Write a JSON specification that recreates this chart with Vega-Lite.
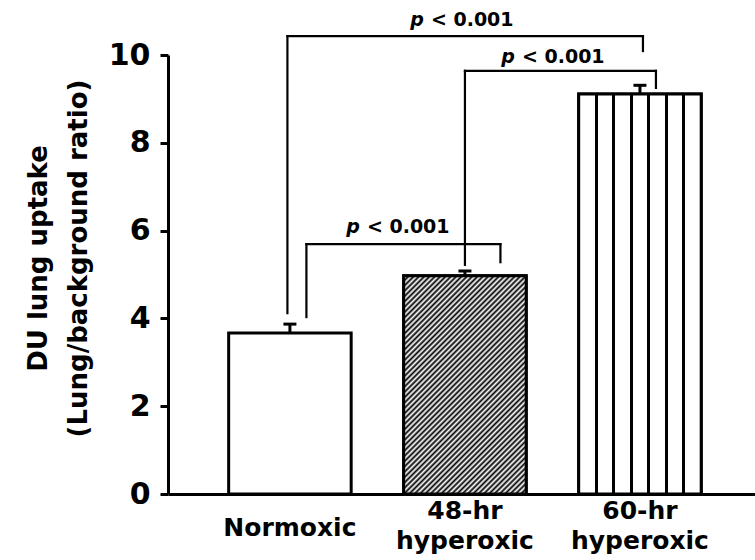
{
  "$schema": "https://vega.github.io/schema/vega-lite/v6.json",
  "autosize": {"type": "none"},
  "padding": {"left": 168, "top": 55, "right": 0, "bottom": 66},
  "width": 587,
  "height": 439,
  "background": "white",
  "config": {"view": {"stroke": null}, "font": "DejaVu Sans"},
  "resolve": {"axis": {"x": "independent", "y": "independent"}},
  "datasets": {
    "bars": [
      {"group": "Normoxic", "mean": 3.67, "upper": 3.87},
      {"group": "48-hr hyperoxic", "mean": 4.97, "upper": 5.08},
      {"group": "60-hr hyperoxic", "mean": 9.11, "upper": 9.31}
    ],
    "brackets": [
      {"id": "A", "from": "Normoxic", "to": "60-hr hyperoxic", "top": 10.43, "fromEnd": 4.12, "toEnd": 10.09, "labelY": 10.8, "p": "p", "sig": "< 0.001"},
      {"id": "B", "from": "48-hr hyperoxic", "to": "60-hr hyperoxic", "top": 9.64, "fromEnd": 5.22, "toEnd": 9.25, "labelY": 9.95, "p": "p", "sig": "< 0.001"},
      {"id": "C", "from": "Normoxic", "to": "48-hr hyperoxic", "top": 5.69, "fromEnd": 4.03, "toEnd": 5.28, "labelY": 6.08, "p": "p", "sig": "< 0.001"}
    ]
  },
  "layer": [
    {
      "data": {"name": "bars"},
      "mark": {"type": "bar", "fill": "white", "stroke": "black", "strokeWidth": 3},
      "encoding": {
        "x": {"field": "group", "type": "nominal",
          "scale": {"domain": ["Normoxic", "48-hr hyperoxic", "60-hr hyperoxic"], "paddingInner": 0.3, "paddingOuter": 0.327, "align": 0.53},
          "axis": {"title": null, "ticks": false, "tickSize": 0, "domainWidth": 3, "domainColor": "black", "labelColor": "black", "labelFont": "DejaVu Sans", "labelFontSize": 25, "labelFontWeight": "bold", "labelLineHeight": 30, "labelBaseline": "top",
            "labelPadding": {"condition": {"test": "datum.value == 'Normoxic'", "value": 21}, "value": 4},
            "labelAngle": 0, "labelLimit": 0, "labelExpr": "split(datum.label, ' ')"}},
        "y": {"field": "mean", "type": "quantitative",
          "scale": {"domain": [0, 10], "nice": false},
          "axis": {"title": ["DU lung uptake", "(Lung/background ratio)"], "values": [0, 2, 4, 6, 8, 10], "grid": false, "tickSize": 8, "tickWidth": 3, "tickColor": "black", "domainWidth": 3, "domainColor": "black", "labelColor": "black", "labelFont": "DejaVu Sans", "labelFontSize": 30, "labelFontWeight": "bold", "labelPadding": 10, "titleFont": "DejaVu Sans", "titleFontSize": 26, "titleFontWeight": "bold", "titleColor": "black", "titleAngle": 270, "titleBaseline": "middle", "titleAlign": "center", "titleLineHeight": 40, "titleX": -130, "titleY": 203}}
      }
    },
    {
      "data": {"name": "bars"},
      "transform": [{"filter": "datum.group == '48-hr hyperoxic'"}],
      "mark": {"type": "bar", "stroke": "black", "strokeWidth": 3,
        "fill": {"gradient": "linear", "x1": 0, "y1": 0, "x2": 0.667, "y2": 1.187, "stops": [
          {"offset": 0, "color": "black"}, {"offset": 0.00781, "color": "white"}, {"offset": 0.01563, "color": "black"}, {"offset": 0.02344, "color": "white"},
          {"offset": 0.03125, "color": "black"}, {"offset": 0.03906, "color": "white"}, {"offset": 0.04688, "color": "black"}, {"offset": 0.05469, "color": "white"},
          {"offset": 0.0625, "color": "black"}, {"offset": 0.07031, "color": "white"}, {"offset": 0.07813, "color": "black"}, {"offset": 0.08594, "color": "white"},
          {"offset": 0.09375, "color": "black"}, {"offset": 0.10156, "color": "white"}, {"offset": 0.10938, "color": "black"}, {"offset": 0.11719, "color": "white"},
          {"offset": 0.125, "color": "black"}, {"offset": 0.13281, "color": "white"}, {"offset": 0.14063, "color": "black"}, {"offset": 0.14844, "color": "white"},
          {"offset": 0.15625, "color": "black"}, {"offset": 0.16406, "color": "white"}, {"offset": 0.17188, "color": "black"}, {"offset": 0.17969, "color": "white"},
          {"offset": 0.1875, "color": "black"}, {"offset": 0.19531, "color": "white"}, {"offset": 0.20313, "color": "black"}, {"offset": 0.21094, "color": "white"},
          {"offset": 0.21875, "color": "black"}, {"offset": 0.22656, "color": "white"}, {"offset": 0.23438, "color": "black"}, {"offset": 0.24219, "color": "white"},
          {"offset": 0.25, "color": "black"}, {"offset": 0.25781, "color": "white"}, {"offset": 0.26563, "color": "black"}, {"offset": 0.27344, "color": "white"},
          {"offset": 0.28125, "color": "black"}, {"offset": 0.28906, "color": "white"}, {"offset": 0.29688, "color": "black"}, {"offset": 0.30469, "color": "white"},
          {"offset": 0.3125, "color": "black"}, {"offset": 0.32031, "color": "white"}, {"offset": 0.32813, "color": "black"}, {"offset": 0.33594, "color": "white"},
          {"offset": 0.34375, "color": "black"}, {"offset": 0.35156, "color": "white"}, {"offset": 0.35938, "color": "black"}, {"offset": 0.36719, "color": "white"},
          {"offset": 0.375, "color": "black"}, {"offset": 0.38281, "color": "white"}, {"offset": 0.39063, "color": "black"}, {"offset": 0.39844, "color": "white"},
          {"offset": 0.40625, "color": "black"}, {"offset": 0.41406, "color": "white"}, {"offset": 0.42188, "color": "black"}, {"offset": 0.42969, "color": "white"},
          {"offset": 0.4375, "color": "black"}, {"offset": 0.44531, "color": "white"}, {"offset": 0.45313, "color": "black"}, {"offset": 0.46094, "color": "white"},
          {"offset": 0.46875, "color": "black"}, {"offset": 0.47656, "color": "white"}, {"offset": 0.48438, "color": "black"}, {"offset": 0.49219, "color": "white"},
          {"offset": 0.5, "color": "black"}, {"offset": 0.50781, "color": "white"}, {"offset": 0.51563, "color": "black"}, {"offset": 0.52344, "color": "white"},
          {"offset": 0.53125, "color": "black"}, {"offset": 0.53906, "color": "white"}, {"offset": 0.54688, "color": "black"}, {"offset": 0.55469, "color": "white"},
          {"offset": 0.5625, "color": "black"}, {"offset": 0.57031, "color": "white"}, {"offset": 0.57813, "color": "black"}, {"offset": 0.58594, "color": "white"},
          {"offset": 0.59375, "color": "black"}, {"offset": 0.60156, "color": "white"}, {"offset": 0.60938, "color": "black"}, {"offset": 0.61719, "color": "white"},
          {"offset": 0.625, "color": "black"}, {"offset": 0.63281, "color": "white"}, {"offset": 0.64063, "color": "black"}, {"offset": 0.64844, "color": "white"},
          {"offset": 0.65625, "color": "black"}, {"offset": 0.66406, "color": "white"}, {"offset": 0.67188, "color": "black"}, {"offset": 0.67969, "color": "white"},
          {"offset": 0.6875, "color": "black"}, {"offset": 0.69531, "color": "white"}, {"offset": 0.70313, "color": "black"}, {"offset": 0.71094, "color": "white"},
          {"offset": 0.71875, "color": "black"}, {"offset": 0.72656, "color": "white"}, {"offset": 0.73438, "color": "black"}, {"offset": 0.74219, "color": "white"},
          {"offset": 0.75, "color": "black"}, {"offset": 0.75781, "color": "white"}, {"offset": 0.76563, "color": "black"}, {"offset": 0.77344, "color": "white"},
          {"offset": 0.78125, "color": "black"}, {"offset": 0.78906, "color": "white"}, {"offset": 0.79688, "color": "black"}, {"offset": 0.80469, "color": "white"},
          {"offset": 0.8125, "color": "black"}, {"offset": 0.82031, "color": "white"}, {"offset": 0.82813, "color": "black"}, {"offset": 0.83594, "color": "white"},
          {"offset": 0.84375, "color": "black"}, {"offset": 0.85156, "color": "white"}, {"offset": 0.85938, "color": "black"}, {"offset": 0.86719, "color": "white"},
          {"offset": 0.875, "color": "black"}, {"offset": 0.88281, "color": "white"}, {"offset": 0.89063, "color": "black"}, {"offset": 0.89844, "color": "white"},
          {"offset": 0.90625, "color": "black"}, {"offset": 0.91406, "color": "white"}, {"offset": 0.92188, "color": "black"}, {"offset": 0.92969, "color": "white"},
          {"offset": 0.9375, "color": "black"}, {"offset": 0.94531, "color": "white"}, {"offset": 0.95313, "color": "black"}, {"offset": 0.96094, "color": "white"},
          {"offset": 0.96875, "color": "black"}, {"offset": 0.97656, "color": "white"}, {"offset": 0.98438, "color": "black"}, {"offset": 0.99219, "color": "white"},
          {"offset": 1, "color": "black"}
        ]}},
      "encoding": {
        "x": {"field": "group", "type": "nominal", "scale": {"domain": ["Normoxic", "48-hr hyperoxic", "60-hr hyperoxic"]}, "axis": null},
        "y": {"field": "mean", "type": "quantitative", "scale": {"domain": [0, 10], "nice": false}, "axis": null}
      }
    },
    {
      "data": {"name": "bars"},
      "transform": [{"filter": "datum.group == '60-hr hyperoxic'"}],
      "mark": {"type": "bar", "stroke": "black", "strokeWidth": 3,
        "fill": {"gradient": "linear", "x1": 0, "y1": 0, "x2": 1, "y2": 0, "stops": [
          {"offset": 0, "color": "white"},
          {"offset": 0.1307, "color": "white"}, {"offset": 0.1307, "color": "black"}, {"offset": 0.1551, "color": "black"}, {"offset": 0.1551, "color": "white"},
          {"offset": 0.2735, "color": "white"}, {"offset": 0.2735, "color": "black"}, {"offset": 0.2979, "color": "black"}, {"offset": 0.2979, "color": "white"},
          {"offset": 0.4164, "color": "white"}, {"offset": 0.4164, "color": "black"}, {"offset": 0.4408, "color": "black"}, {"offset": 0.4408, "color": "white"},
          {"offset": 0.5592, "color": "white"}, {"offset": 0.5592, "color": "black"}, {"offset": 0.5836, "color": "black"}, {"offset": 0.5836, "color": "white"},
          {"offset": 0.7021, "color": "white"}, {"offset": 0.7021, "color": "black"}, {"offset": 0.7265, "color": "black"}, {"offset": 0.7265, "color": "white"},
          {"offset": 0.8449, "color": "white"}, {"offset": 0.8449, "color": "black"}, {"offset": 0.8693, "color": "black"}, {"offset": 0.8693, "color": "white"},
          {"offset": 1, "color": "white"}
        ]}},
      "encoding": {
        "x": {"field": "group", "type": "nominal", "scale": {"domain": ["Normoxic", "48-hr hyperoxic", "60-hr hyperoxic"]}, "axis": null},
        "y": {"field": "mean", "type": "quantitative", "scale": {"domain": [0, 10], "nice": false}, "axis": null}
      }
    },
    {
      "data": {"name": "bars"},
      "mark": {"type": "rule", "color": "black", "strokeWidth": 3},
      "encoding": {
        "x": {"field": "group", "type": "nominal", "scale": {"domain": ["Normoxic", "48-hr hyperoxic", "60-hr hyperoxic"]}, "axis": null},
        "y": {"field": "mean", "type": "quantitative", "scale": {"domain": [0, 10], "nice": false}, "axis": null},
        "y2": {"field": "upper"}
      }
    },
    {
      "data": {"name": "bars"},
      "mark": {"type": "tick", "color": "black", "size": 13, "thickness": 3, "orient": "horizontal", "opacity": 1},
      "encoding": {
        "x": {"field": "group", "type": "nominal", "scale": {"domain": ["Normoxic", "48-hr hyperoxic", "60-hr hyperoxic"]}, "axis": null},
        "y": {"field": "upper", "type": "quantitative", "scale": {"domain": [0, 10], "nice": false}, "axis": null}
      }
    },
    {
      "data": {"name": "brackets"},
      "transform": [{"filter": "datum.id == 'A'"}],
      "mark": {"type": "rule", "color": "black", "strokeWidth": 2.2, "strokeCap": "square", "xOffset": -2.5, "x2Offset": 3},
      "encoding": {
        "x": {"field": "from", "type": "nominal", "scale": {"domain": ["Normoxic", "48-hr hyperoxic", "60-hr hyperoxic"]}, "axis": null},
        "x2": {"field": "to"},
        "y": {"field": "top", "type": "quantitative", "scale": {"domain": [0, 10], "nice": false}, "axis": null}
      }
    },
    {
      "data": {"name": "brackets"},
      "transform": [{"filter": "datum.id == 'A'"}],
      "mark": {"type": "rule", "color": "black", "strokeWidth": 2.2, "strokeCap": "square", "xOffset": -2.5},
      "encoding": {
        "x": {"field": "from", "type": "nominal", "scale": {"domain": ["Normoxic", "48-hr hyperoxic", "60-hr hyperoxic"]}, "axis": null},
        "y": {"field": "fromEnd", "type": "quantitative", "scale": {"domain": [0, 10], "nice": false}, "axis": null},
        "y2": {"field": "top"}
      }
    },
    {
      "data": {"name": "brackets"},
      "transform": [{"filter": "datum.id == 'A'"}],
      "mark": {"type": "rule", "color": "black", "strokeWidth": 2.2, "strokeCap": "square", "xOffset": 3},
      "encoding": {
        "x": {"field": "to", "type": "nominal", "scale": {"domain": ["Normoxic", "48-hr hyperoxic", "60-hr hyperoxic"]}, "axis": null},
        "y": {"field": "toEnd", "type": "quantitative", "scale": {"domain": [0, 10], "nice": false}, "axis": null},
        "y2": {"field": "top"}
      }
    },
    {
      "data": {"name": "brackets"},
      "transform": [{"filter": "datum.id == 'B'"}],
      "mark": {"type": "rule", "color": "black", "strokeWidth": 2.2, "strokeCap": "square", "xOffset": 0, "x2Offset": 16},
      "encoding": {
        "x": {"field": "from", "type": "nominal", "scale": {"domain": ["Normoxic", "48-hr hyperoxic", "60-hr hyperoxic"]}, "axis": null},
        "x2": {"field": "to"},
        "y": {"field": "top", "type": "quantitative", "scale": {"domain": [0, 10], "nice": false}, "axis": null}
      }
    },
    {
      "data": {"name": "brackets"},
      "transform": [{"filter": "datum.id == 'B'"}],
      "mark": {"type": "rule", "color": "black", "strokeWidth": 2.2, "strokeCap": "square", "xOffset": 0},
      "encoding": {
        "x": {"field": "from", "type": "nominal", "scale": {"domain": ["Normoxic", "48-hr hyperoxic", "60-hr hyperoxic"]}, "axis": null},
        "y": {"field": "fromEnd", "type": "quantitative", "scale": {"domain": [0, 10], "nice": false}, "axis": null},
        "y2": {"field": "top"}
      }
    },
    {
      "data": {"name": "brackets"},
      "transform": [{"filter": "datum.id == 'B'"}],
      "mark": {"type": "rule", "color": "black", "strokeWidth": 2.2, "strokeCap": "square", "xOffset": 16},
      "encoding": {
        "x": {"field": "to", "type": "nominal", "scale": {"domain": ["Normoxic", "48-hr hyperoxic", "60-hr hyperoxic"]}, "axis": null},
        "y": {"field": "toEnd", "type": "quantitative", "scale": {"domain": [0, 10], "nice": false}, "axis": null},
        "y2": {"field": "top"}
      }
    },
    {
      "data": {"name": "brackets"},
      "transform": [{"filter": "datum.id == 'C'"}],
      "mark": {"type": "rule", "color": "black", "strokeWidth": 2.2, "strokeCap": "square", "xOffset": 16.5, "x2Offset": 35.5},
      "encoding": {
        "x": {"field": "from", "type": "nominal", "scale": {"domain": ["Normoxic", "48-hr hyperoxic", "60-hr hyperoxic"]}, "axis": null},
        "x2": {"field": "to"},
        "y": {"field": "top", "type": "quantitative", "scale": {"domain": [0, 10], "nice": false}, "axis": null}
      }
    },
    {
      "data": {"name": "brackets"},
      "transform": [{"filter": "datum.id == 'C'"}],
      "mark": {"type": "rule", "color": "black", "strokeWidth": 2.2, "strokeCap": "square", "xOffset": 16.5},
      "encoding": {
        "x": {"field": "from", "type": "nominal", "scale": {"domain": ["Normoxic", "48-hr hyperoxic", "60-hr hyperoxic"]}, "axis": null},
        "y": {"field": "fromEnd", "type": "quantitative", "scale": {"domain": [0, 10], "nice": false}, "axis": null},
        "y2": {"field": "top"}
      }
    },
    {
      "data": {"name": "brackets"},
      "transform": [{"filter": "datum.id == 'C'"}],
      "mark": {"type": "rule", "color": "black", "strokeWidth": 2.2, "strokeCap": "square", "xOffset": 35.5},
      "encoding": {
        "x": {"field": "to", "type": "nominal", "scale": {"domain": ["Normoxic", "48-hr hyperoxic", "60-hr hyperoxic"]}, "axis": null},
        "y": {"field": "toEnd", "type": "quantitative", "scale": {"domain": [0, 10], "nice": false}, "axis": null},
        "y2": {"field": "top"}
      }
    },
    {
      "data": {"name": "brackets"},
      "transform": [{"filter": "datum.id == 'A'"}],
      "mark": {"type": "text", "font": "DejaVu Sans", "fontSize": 19, "fontWeight": "bold", "fontStyle": "italic", "align": "right", "baseline": "middle", "dx": 134, "color": "black"},
      "encoding": {
        "x": {"field": "from", "type": "nominal", "scale": {"domain": ["Normoxic", "48-hr hyperoxic", "60-hr hyperoxic"]}, "axis": null},
        "y": {"field": "labelY", "type": "quantitative", "scale": {"domain": [0, 10], "nice": false}, "axis": null},
        "text": {"field": "p"}
      }
    },
    {
      "data": {"name": "brackets"},
      "transform": [{"filter": "datum.id == 'A'"}],
      "mark": {"type": "text", "font": "DejaVu Sans", "fontSize": 19, "fontWeight": "bold", "align": "left", "baseline": "middle", "dx": 141, "color": "black"},
      "encoding": {
        "x": {"field": "from", "type": "nominal", "scale": {"domain": ["Normoxic", "48-hr hyperoxic", "60-hr hyperoxic"]}, "axis": null},
        "y": {"field": "labelY", "type": "quantitative", "scale": {"domain": [0, 10], "nice": false}, "axis": null},
        "text": {"field": "sig"}
      }
    },
    {
      "data": {"name": "brackets"},
      "transform": [{"filter": "datum.id == 'B'"}],
      "mark": {"type": "text", "font": "DejaVu Sans", "fontSize": 19, "fontWeight": "bold", "fontStyle": "italic", "align": "right", "baseline": "middle", "dx": 50, "color": "black"},
      "encoding": {
        "x": {"field": "from", "type": "nominal", "scale": {"domain": ["Normoxic", "48-hr hyperoxic", "60-hr hyperoxic"]}, "axis": null},
        "y": {"field": "labelY", "type": "quantitative", "scale": {"domain": [0, 10], "nice": false}, "axis": null},
        "text": {"field": "p"}
      }
    },
    {
      "data": {"name": "brackets"},
      "transform": [{"filter": "datum.id == 'B'"}],
      "mark": {"type": "text", "font": "DejaVu Sans", "fontSize": 19, "fontWeight": "bold", "align": "left", "baseline": "middle", "dx": 57, "color": "black"},
      "encoding": {
        "x": {"field": "from", "type": "nominal", "scale": {"domain": ["Normoxic", "48-hr hyperoxic", "60-hr hyperoxic"]}, "axis": null},
        "y": {"field": "labelY", "type": "quantitative", "scale": {"domain": [0, 10], "nice": false}, "axis": null},
        "text": {"field": "sig"}
      }
    },
    {
      "data": {"name": "brackets"},
      "transform": [{"filter": "datum.id == 'C'"}],
      "mark": {"type": "text", "font": "DejaVu Sans", "fontSize": 19, "fontWeight": "bold", "fontStyle": "italic", "align": "right", "baseline": "middle", "dx": 70, "color": "black"},
      "encoding": {
        "x": {"field": "from", "type": "nominal", "scale": {"domain": ["Normoxic", "48-hr hyperoxic", "60-hr hyperoxic"]}, "axis": null},
        "y": {"field": "labelY", "type": "quantitative", "scale": {"domain": [0, 10], "nice": false}, "axis": null},
        "text": {"field": "p"}
      }
    },
    {
      "data": {"name": "brackets"},
      "transform": [{"filter": "datum.id == 'C'"}],
      "mark": {"type": "text", "font": "DejaVu Sans", "fontSize": 19, "fontWeight": "bold", "align": "left", "baseline": "middle", "dx": 77, "color": "black"},
      "encoding": {
        "x": {"field": "from", "type": "nominal", "scale": {"domain": ["Normoxic", "48-hr hyperoxic", "60-hr hyperoxic"]}, "axis": null},
        "y": {"field": "labelY", "type": "quantitative", "scale": {"domain": [0, 10], "nice": false}, "axis": null},
        "text": {"field": "sig"}
      }
    }
  ]
}
